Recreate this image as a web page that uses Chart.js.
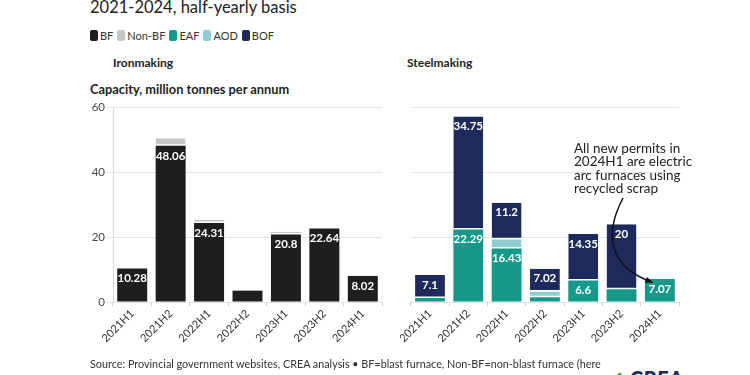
<!DOCTYPE html>
<html><head><meta charset="utf-8">
<script src="https://cdn.jsdelivr.net/npm/chart.js@4/dist/chart.umd.min.js"></script>
<style>
html,body{margin:0;padding:0;background:#fff;width:750px;height:375px;overflow:hidden;font-family:Lato,"Noto Sans",sans-serif;color:#222;}
.abs{position:absolute;white-space:nowrap;}
#title{left:90px;top:-3px;font-size:16.5px;color:#222;}
#legend{left:90px;top:29px;font-size:11px;color:#333;display:flex;align-items:center;}
#legend span.sw{display:inline-block;width:8px;height:11px;border-radius:2px;margin-right:2px;}
#legend span.it{margin-right:4px;display:flex;align-items:center;}
.sub{font-size:12px;font-weight:bold;color:#222;}
#ytitle{left:90px;top:81px;font-size:12.8px;font-weight:bold;color:#222;}
#note{left:574px;top:142px;font-size:13.5px;line-height:13.3px;color:#222;}
#source{left:90px;top:357px;font-size:10.8px;color:#333;}
#c1wrap{position:absolute;left:80px;top:98px;width:305px;height:260px;}
#c2wrap{position:absolute;left:400px;top:98px;width:282px;height:260px;}
#crea{left:630px;top:366px;font-size:20px;font-weight:900;color:#1e2a5e;letter-spacing:0.5px;}
#creamark{left:611px;top:368px;font-size:14px;font-weight:bold;color:#4a8a3a;}
</style></head>
<body>
<div class="abs" id="title">2021-2024, half-yearly basis</div>
<div class="abs" id="legend"></div>
<div class="abs sub" style="left:113px;top:55px;">Ironmaking</div>
<div class="abs sub" style="left:407px;top:55px;">Steelmaking</div>
<div class="abs" id="ytitle">Capacity, million tonnes per annum</div>
<div id="c1wrap"><canvas id="c1" width="305" height="260"></canvas></div>
<div id="c2wrap"><canvas id="c2" width="282" height="260"></canvas></div>
<div class="abs" id="note">All new permits in<br>2024H1 are electric<br>arc furnaces using<br>recycled scrap</div>
<div class="abs" id="source">Source: Provincial government websites, CREA analysis • BF=blast furnace, Non-BF=non-blast furnace (here</div>
<div class="abs" id="creamark">✔</div>
<div class="abs" id="crea">CREA</div>
<script>
// ---- data ----
const periods = ['2021H1','2021H2','2022H1','2022H2','2023H1','2023H2','2024H1'];
const ironBF    = [10.28, 48.06, 24.31, 3.5, 20.8, 22.64, 8.02];
const ironNonBF = [null, 2.3, 1.1, null, 0.8, null, null];
const steelEAF  = [1.2, 22.29, 16.43, 1.5, 6.6, 3.9, 7.07];
const steelAOD  = [null, null, 2.9, 1.7, null, null, null];
const steelBOF  = [7.1, 34.75, 11.2, 7.02, 14.35, 20, null];
const yTickValues = [0, 20, 40, 60];
const seriesNames = ['BF','Non-BF','EAF','AOD','BOF'];
const seriesColors = ['#1e1e1e','#c6c6c6','#16998b','#8ecdd0','#1f2a5c'];

// legend
const lg = document.getElementById('legend');
seriesNames.forEach((n,i)=>{
  const it=document.createElement('span'); it.className='it';
  it.innerHTML='<span class="sw" style="background:'+seriesColors[i]+'"></span>'+n;
  lg.appendChild(it);
});

const labelPlugin = {
  id:'valueLabels',
  afterDatasetsDraw(chart){
    const ctx=chart.ctx;
    chart.data.datasets.forEach((ds,i)=>{
      if(!ds.showLabels) return;
      const meta=chart.getDatasetMeta(i);
      meta.data.forEach((el,j)=>{
        const v=ds.data[j];
        if(v==null||v<5) return;
        ctx.save();
        ctx.fillStyle='#fff';
        ctx.font='bold 11.5px Lato, sans-serif';
        ctx.textAlign='center'; ctx.textBaseline='middle';
        ctx.fillText(String(v), el.x, el.y+10);
        ctx.restore();
      });
    });
  }
};

const arrowPlugin = {
  id:'arrow',
  afterDraw(chart){
    if(chart.canvas.id!=='c2') return;
    const ctx=chart.ctx, xs=chart.scales.x, ys=chart.scales.y;
    const ex = xs.getPixelForValue(6)-8, ey = ys.getPixelForValue(7.07)+3;
    const sx = 223, sy = 100;
    ctx.save();
    ctx.strokeStyle='#111'; ctx.fillStyle='#111'; ctx.lineWidth=1.5;
    ctx.beginPath(); ctx.moveTo(sx,sy);
    const c1x=202,c1y=140,c2x=212,c2y=170;
    ctx.bezierCurveTo(c1x,c1y,c2x,c2y,ex,ey); ctx.stroke();
    const ang=Math.atan2(ey-c2y, ex-c2x);
    ctx.beginPath();
    ctx.moveTo(ex+2*Math.cos(ang),ey+2*Math.sin(ang));
    ctx.lineTo(ex-7*Math.cos(ang-0.45),ey-7*Math.sin(ang-0.45));
    ctx.lineTo(ex-7*Math.cos(ang+0.45),ey-7*Math.sin(ang+0.45));
    ctx.closePath(); ctx.fill();
    ctx.restore();
  }
};

function ds(label,data,color,upper,showLabels){
  return {label,data,backgroundColor:color,stack:'s',
    borderColor:'#fff',
    borderWidth: upper?{top:0,left:0,right:0,bottom:1.5}:0,
    borderSkipped: upper?false:'start',
    showLabels};
}

function makeOptions(showY, yWidth){
  return {
    responsive:false, animation:false,
    layout:{padding:{top:9,right:3,left:0,bottom:0}},
    plugins:{legend:{display:false},tooltip:{enabled:false}},
    datasets:{bar:{categoryPercentage:1,barPercentage:0.78}},
    scales:{
      x:{stacked:true,
        grid:{drawOnChartArea:false,tickLength:4,color:'#cfcfcf'},
        border:{display:false},
        ticks:{minRotation:45,maxRotation:45,autoSkip:false,font:{family:'Lato',size:11},color:'#333',padding:1},
        afterFit(s){s.height=56;}
      },
      y:{stacked:true,min:0,max:60,
        afterBuildTicks(s){s.ticks=yTickValues.map(v=>({value:v}));},
        grid:{color:'#e3e3e3',tickLength:showY?6:0,drawTicks:showY},
        border:{display:showY,color:'#d8d8d8'},
        ticks:{display:showY,font:{family:'Lato',size:11.5},color:'#444',padding:2},
        afterFit(s){s.width=yWidth;}
      }
    }
  };
}

new Chart(document.getElementById('c1'),{
  type:'bar',
  data:{labels:periods,datasets:[
    ds('BF',ironBF,seriesColors[0],false,true),
    ds('Non-BF',ironNonBF,seriesColors[1],true,false)
  ]},
  options:makeOptions(true,33),
  plugins:[labelPlugin]
});
new Chart(document.getElementById('c2'),{
  type:'bar',
  data:{labels:periods,datasets:[
    ds('EAF',steelEAF,seriesColors[2],false,true),
    ds('AOD',steelAOD,seriesColors[3],true,false),
    ds('BOF',steelBOF,seriesColors[4],true,true)
  ]},
  options:makeOptions(false,7),
  plugins:[labelPlugin,arrowPlugin]
});
</script>
</body></html>
